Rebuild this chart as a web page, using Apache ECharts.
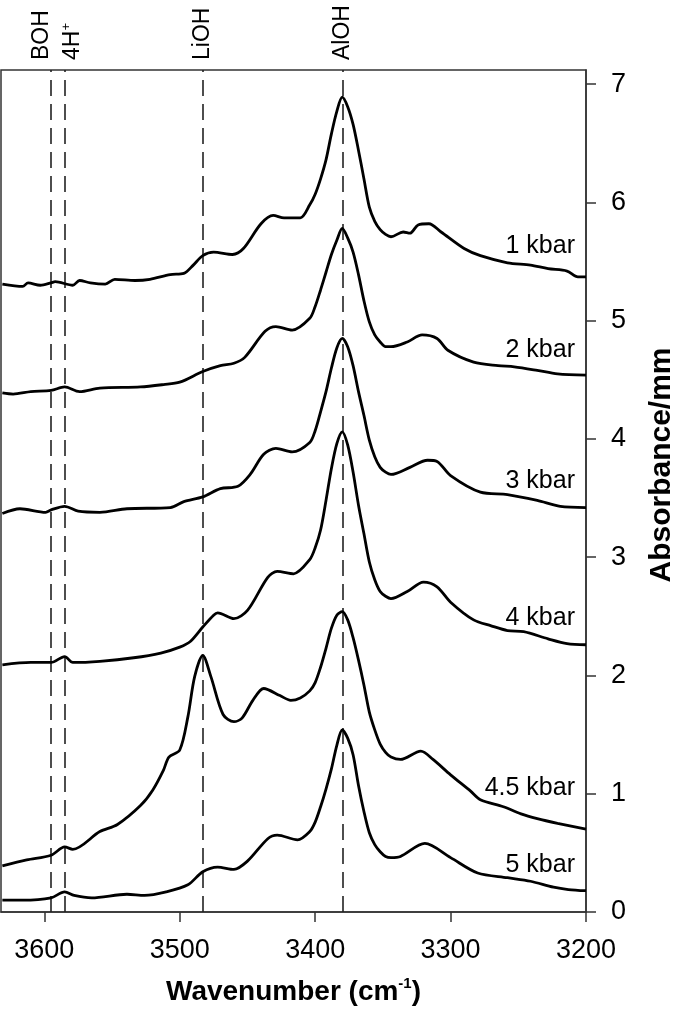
<!DOCTYPE html>
<html><head><meta charset="utf-8">
<script src="https://cdn.jsdelivr.net/npm/echarts@6/dist/echarts.min.js"></script>
<style>html,body{margin:0;padding:0;background:#fff}#c{width:685px;height:1017px}</style>
</head><body><div id="c"></div>
<script>
// ---------- data ----------
const seriesNames = ['1 kbar', '2 kbar', '3 kbar', '4 kbar', '4.5 kbar', '5 kbar'];

const wn1 = [3631,3616,3612,3603,3595,3592,3579,3574,3566,3555,3548,3533,3522,3507,3497,3490,3483,3475,3461,3453,3440,3431,3423,3411,3404,3400,3396,3392,3388,3384,3380,3376,3372,3368,3364,3360,3356,3352,3348,3344,3335,3330,3324,3316,3307,3290,3278,3258,3241,3228,3214,3206,3200];
const abs1 = [5.31,5.29,5.32,5.30,5.32,5.33,5.30,5.34,5.32,5.31,5.35,5.34,5.35,5.39,5.40,5.47,5.55,5.58,5.56,5.61,5.82,5.89,5.87,5.87,5.98,6.07,6.20,6.36,6.58,6.77,6.89,6.81,6.66,6.44,6.20,5.96,5.84,5.77,5.73,5.71,5.75,5.74,5.81,5.82,5.75,5.61,5.55,5.49,5.47,5.44,5.42,5.37,5.37];

const wn2 = [3631,3623,3610,3595,3585,3574,3559,3529,3512,3500,3483,3470,3460,3452,3437,3429,3417,3404,3400,3396,3392,3388,3384,3380,3376,3372,3368,3364,3360,3356,3352,3348,3344,3332,3321,3310,3302,3283,3265,3253,3236,3221,3200];
const abs2 = [4.39,4.38,4.40,4.41,4.44,4.40,4.43,4.44,4.46,4.48,4.57,4.62,4.64,4.69,4.91,4.95,4.92,5.02,5.12,5.26,5.41,5.56,5.68,5.78,5.70,5.58,5.39,5.17,4.99,4.88,4.82,4.78,4.78,4.82,4.88,4.85,4.75,4.65,4.62,4.61,4.58,4.55,4.54];

const wn3 = [3631,3618,3599,3595,3585,3575,3559,3539,3507,3497,3483,3470,3457,3448,3438,3429,3417,3404,3400,3396,3392,3388,3384,3380,3376,3372,3368,3364,3360,3356,3352,3348,3344,3330,3317,3310,3300,3278,3258,3236,3219,3200];
const abs3 = [3.37,3.41,3.38,3.40,3.43,3.39,3.38,3.41,3.42,3.47,3.51,3.58,3.60,3.70,3.87,3.92,3.89,3.97,4.07,4.23,4.40,4.60,4.77,4.85,4.78,4.62,4.40,4.20,3.99,3.85,3.76,3.72,3.70,3.76,3.82,3.81,3.69,3.55,3.53,3.48,3.43,3.42];

const wn4 = [3631,3610,3595,3585,3579,3559,3534,3514,3500,3492,3483,3475,3472,3460,3450,3435,3428,3416,3404,3400,3396,3392,3388,3384,3380,3376,3372,3368,3364,3360,3356,3352,3348,3344,3332,3320,3310,3300,3283,3270,3258,3246,3228,3214,3200];
const abs4 = [2.09,2.11,2.11,2.16,2.11,2.12,2.15,2.19,2.24,2.29,2.41,2.51,2.53,2.48,2.55,2.83,2.88,2.86,2.98,3.08,3.23,3.48,3.75,3.96,4.06,3.95,3.72,3.44,3.20,2.96,2.81,2.71,2.67,2.65,2.71,2.79,2.75,2.62,2.47,2.42,2.38,2.37,2.31,2.27,2.26];

const wn5 = [3631,3613,3595,3585,3579,3559,3546,3529,3520,3512,3508,3500,3494,3489,3483,3477,3468,3460,3454,3446,3438,3426,3418,3411,3404,3400,3396,3392,3388,3384,3380,3376,3372,3368,3364,3360,3356,3352,3348,3344,3337,3322,3313,3300,3285,3278,3261,3248,3236,3221,3200];
const abs5 = [0.39,0.44,0.48,0.55,0.53,0.68,0.74,0.90,1.03,1.20,1.31,1.37,1.65,1.99,2.17,1.99,1.67,1.61,1.64,1.79,1.89,1.83,1.79,1.81,1.87,1.94,2.07,2.23,2.40,2.51,2.54,2.47,2.32,2.13,1.92,1.69,1.54,1.42,1.35,1.31,1.29,1.36,1.29,1.16,1.02,0.95,0.89,0.83,0.79,0.75,0.70];

const wn6 = [3631,3616,3595,3585,3578,3565,3539,3526,3510,3494,3483,3472,3460,3450,3435,3428,3413,3404,3400,3396,3392,3388,3384,3380,3376,3372,3368,3364,3360,3356,3352,3348,3344,3337,3319,3300,3280,3258,3241,3224,3213,3200];
const abs6 = [0.10,0.10,0.12,0.17,0.14,0.12,0.15,0.14,0.17,0.23,0.34,0.38,0.36,0.43,0.62,0.65,0.61,0.68,0.76,0.89,1.04,1.21,1.41,1.54,1.47,1.33,1.07,0.85,0.67,0.57,0.51,0.47,0.46,0.47,0.58,0.46,0.33,0.29,0.26,0.21,0.19,0.18];

const markerNames = ['BOH', '4H+', 'LiOH', 'AlOH'];
const markerWavenumbers = [3595, 3585, 3483, 3380];

const xTicks = [3600, 3500, 3400, 3300, 3200];
const yTicks = [0, 1, 2, 3, 4, 5, 6, 7];
const xRange = [3200, 3632];
const yRange = [0, 7.12];

// ---------- styling (pixel offsets only) ----------
const FONT = '"Liberation Sans", Arial, sans-serif';
const markerLabelOffsets = [-9, 8, 0, 0];
const seriesLabelOffsets = [[-11, -18], [-11, -12], [-11, -14], [-11, -14], [-11, -29], [-11, -13]];

const wns = [wn1, wn2, wn3, wn4, wn5, wn6];
const absVals = [abs1, abs2, abs3, abs4, abs5, abs6];

const lineSeries = seriesNames.map((name, k) => ({
  name: name,
  type: 'line',
  data: wns[k].map((w, i) => [w, absVals[k][i]]),
  showSymbol: false,
  smooth: 0.3,
  lineStyle: { color: '#000', width: 2.8 },
  z: 3
}));

lineSeries[0].markLine = {
  silent: true,
  symbol: ['none', 'none'],
  label: { show: false },
  lineStyle: { color: '#222', width: 1.6, type: [16, 8] },
  data: markerWavenumbers.map(v => ({ xAxis: v })),
  z: 2
};

const seriesLabelSeries = {
  type: 'custom',
  clip: false,
  silent: true,
  z: 5,
  data: wns.map((w, k) => [w[w.length - 1], absVals[k][absVals[k].length - 1], k]),
  renderItem: function (params, api) {
    const p = api.coord([api.value(0), api.value(1)]);
    const k = api.value(2);
    return {
      type: 'text',
      x: p[0] + seriesLabelOffsets[k][0],
      y: p[1] + seriesLabelOffsets[k][1],
      style: {
        text: seriesNames[k],
        font: '25px ' + FONT,
        fill: '#000',
        align: 'right',
        verticalAlign: 'bottom'
      }
    };
  }
};

const markerLabelSeries = {
  type: 'custom',
  clip: false,
  silent: true,
  z: 5,
  data: markerWavenumbers.map((w, i) => [w, yRange[1], i]),
  renderItem: function (params, api) {
    const p = api.coord([api.value(0), api.value(1)]);
    const i = api.value(2);
    const name = markerNames[i];
    let txt;
    if (name.endsWith('+')) {
      txt = '{b|' + name.slice(0, -1) + '}{s|+}';
    } else {
      txt = '{b|' + name + '}';
    }
    return {
      type: 'text',
      x: p[0] + markerLabelOffsets[i],
      y: p[1] - 10,
      rotation: Math.PI / 2,
      style: {
        text: txt,
        align: 'left',
        verticalAlign: 'middle',
        fill: '#000',
        rich: {
          b: { fontSize: 23, fontFamily: FONT, lineHeight: 26, fill: '#000' },
          s: { fontSize: 13, fontFamily: FONT, lineHeight: 13, verticalAlign: 'top', fill: '#000' }
        }
      }
    };
  }
};

const chart = echarts.init(document.getElementById('c'), null, { renderer: 'canvas' });
chart.setOption({
  animation: false,
  backgroundColor: '#fff',
  grid: {
    left: 1, right: 99, top: 70, bottom: 105,
    show: true, borderColor: '#333', borderWidth: 1.5, backgroundColor: 'transparent'
  },
  xAxis: {
    type: 'value',
    inverse: true,
    min: xRange[0], max: xRange[1],
    name: '{t|Wavenumber (cm}{s|-1}{t|)}',
    nameLocation: 'middle',
    nameGap: 64,
    nameTextStyle: {
      rich: {
        t: { fontSize: 28, fontWeight: 'bold', fontFamily: FONT, color: '#000', lineHeight: 32 },
        s: { fontSize: 15, fontWeight: 'bold', fontFamily: FONT, color: '#000', lineHeight: 15, verticalAlign: 'top' }
      }
    },
    axisLine: { show: true, lineStyle: { color: '#333', width: 1.5 } },
    axisTick: { show: true, inside: false, length: 10, customValues: xTicks, lineStyle: { color: '#333', width: 1.5 } },
    axisLabel: { customValues: xTicks, fontSize: 27, fontFamily: FONT, color: '#000', margin: 25,
      formatter: v => String(v) },
    splitLine: { show: false }
  },
  yAxis: {
    type: 'value',
    position: 'right',
    min: yRange[0], max: yRange[1],
    axisLine: { show: true, lineStyle: { color: '#333', width: 1.5 } },
    axisTick: { show: true, inside: false, length: 10, customValues: yTicks, lineStyle: { color: '#333', width: 1.5 } },
    axisLabel: { customValues: yTicks, fontSize: 27, fontFamily: FONT, color: '#000', margin: 25,
      formatter: v => String(v) },
    splitLine: { show: false }
  },
  graphic: [{
    type: 'text',
    x: 662, y: 465,
    rotation: Math.PI / 2,
    style: {
      text: 'Absorbance/mm',
      font: 'bold 30px ' + FONT,
      fill: '#000',
      align: 'center',
      verticalAlign: 'middle'
    }
  }],
  series: lineSeries.concat([seriesLabelSeries, markerLabelSeries])
});
</script>
</body></html>
